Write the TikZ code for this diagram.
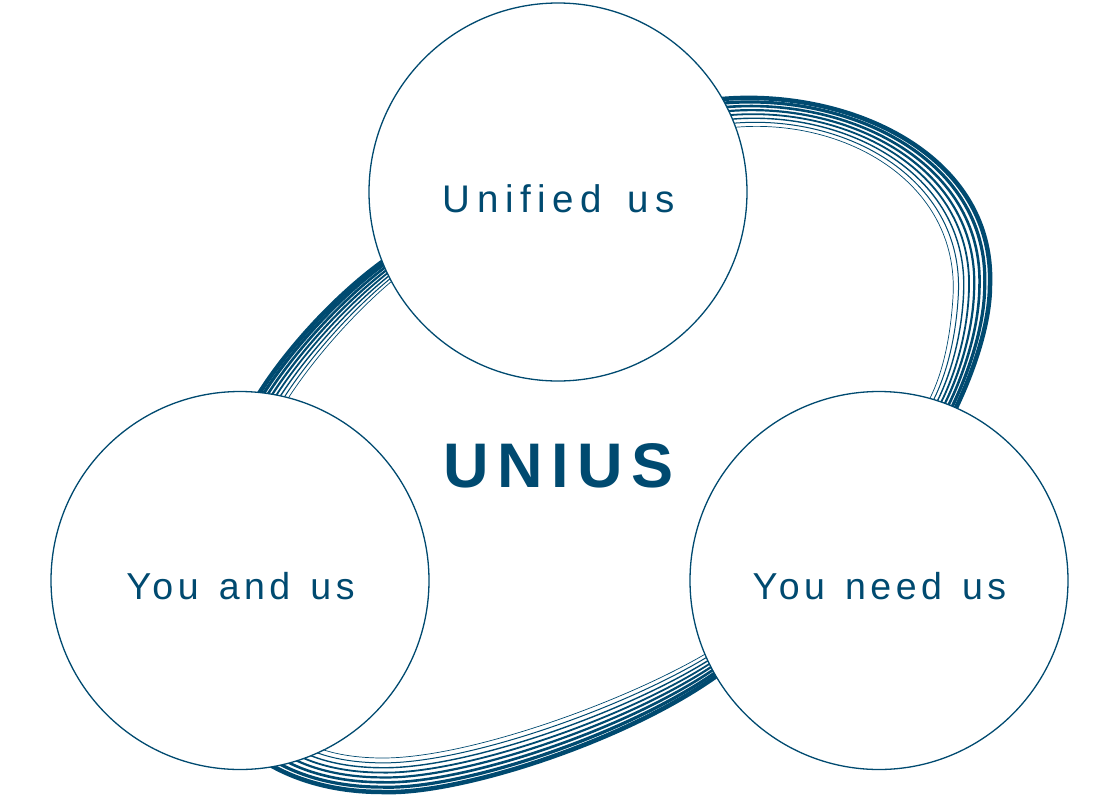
\documentclass[tikz,border=0pt]{standalone}
\usepackage{fontspec}
\setmainfont{Liberation Sans}
\newfontfamily\lblfont{Liberation Sans}[LetterSpace=12,WordSpace=1.35]
\newfontfamily\topfont{Liberation Sans}[LetterSpace=17,WordSpace=1.5]
\newfontfamily\ttlfont{Liberation Sans}[LetterSpace=13.5]
\usetikzlibrary{calc}
\definecolor{ublue}{HTML}{004A70}
\begin{document}
\begin{tikzpicture}[x=1pt,y=-1pt,
  bub/.style={circle,draw=ublue,fill=white,line width=1.3pt,minimum size=378pt,inner sep=0pt},
  lbl/.style={text=ublue,inner sep=0pt,font=\lblfont\fontsize{37.5}{37.5}\selectfont},
  toplbl/.style={text=ublue,inner sep=0pt,font=\topfont\fontsize{38.5}{38.5}\selectfont},
  ttl/.style={text=ublue,inner sep=0pt,font=\ttlfont\fontsize{63}{63}\selectfont\bfseries},
  loopline/.style={draw=ublue,line join=round}]
\useasboundingbox (0,0) rectangle (1120,796);
% outer (o) and inner (i) curve points
\coordinate (o1) at (255,400);  \coordinate (i1) at (284,405);
\coordinate (o2) at (285,350);  \coordinate (i2) at (305,370);
\coordinate (o3) at (340,290);  \coordinate (i3) at (350,315);
\coordinate (o4) at (392,255);  \coordinate (i4) at (398,276);
\coordinate (o5) at (712,100);  \coordinate (i5) at (728,128);
\coordinate (o6) at (840,85);   \coordinate (i6) at (840,115);
\coordinate (o7) at (995,150);  \coordinate (i7) at (960,180);
\coordinate (o8) at (990,285);  \coordinate (i8) at (953,297);
\coordinate (o9) at (990,330);  \coordinate (i9) at (950,345);
\coordinate (o10) at (968,385); \coordinate (i10) at (940,385);
\coordinate (o11) at (950,420); \coordinate (i11) at (922,412);
\coordinate (o12) at (722,672); \coordinate (i12) at (712,650);
\coordinate (o13) at (630,740); \coordinate (i13) at (630,700);
\coordinate (o14) at (460,795); \coordinate (i14) at (470,758);
\coordinate (o15) at (383,792); \coordinate (i15) at (383,758);
\coordinate (o16) at (330,792); \coordinate (i16) at (350,758);
\coordinate (o17) at (290,778); \coordinate (i17) at (325,752);
\coordinate (o18) at (262,760); \coordinate (i18) at (312,745);
\foreach \t/\w in {0/4.5,0.143/3.2,0.286/2.6,0.429/2.2,0.571/1.8,0.714/1.4,0.857/1.0,1/0.7}{
  \foreach \n in {1,...,18}{\coordinate (p\n) at ($(o\n)!\t!(i\n)$);}
  \draw[loopline,line width=\w pt] (p1) .. controls (p2) and (p3) .. (p4) -- (p5)
    .. controls (p6) and (p7) .. (p8) .. controls (p9) and (p10) .. (p11) -- (p12)
    .. controls (p13) and (p14) .. (p15) .. controls (p16) and (p17) .. (p18) -- cycle;
}
\node[bub] (top) at (558,192) {};
\node[bub] (left) at (240,580.5) {};
\node[bub] (right) at (879,580.5) {};
\node[toplbl] (toptxt) at (559,199) {Unified us};
\node[lbl] (lefttxt) at (240.5,586.5) {You and us};
\node[lbl] (righttxt) at (879.5,586.5) {You need us};
\node[ttl] (title) at (558.5,465.5) {UNIUS};
\end{tikzpicture}
\end{document}
